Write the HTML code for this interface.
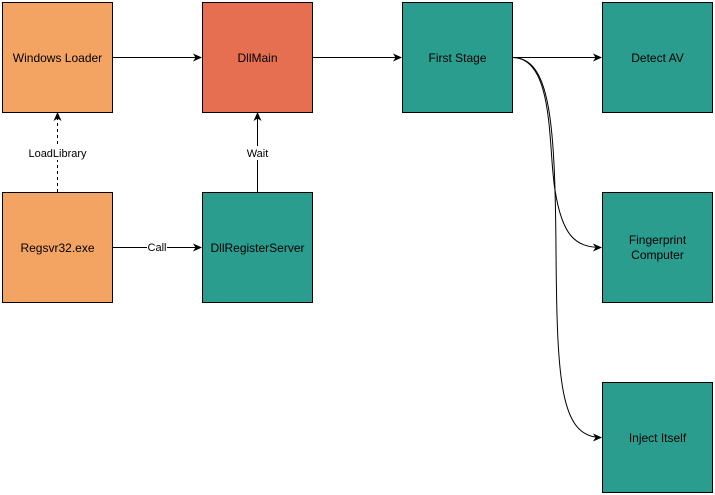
<!DOCTYPE html>
<html><head><style>body{margin:0;background:#fff;}svg{display:block}</style></head>
<body>
<svg width="715" height="495" xmlns="http://www.w3.org/2000/svg" font-family="Liberation Sans, Arial, sans-serif" font-size="12">
<defs><marker id="a" markerWidth="10" markerHeight="10" refX="8" refY="5" orient="auto" markerUnits="userSpaceOnUse"><path d="M0,1 L9,5 L0,9 L2.5,5 Z" fill="#000"/></marker></defs>
<g stroke="#000" stroke-width="1">
<rect x="2.5" y="2.5" width="110" height="110" fill="#F4A462"/>
<rect x="202.5" y="2.5" width="110" height="110" fill="#E76F51"/>
<rect x="402.5" y="2.5" width="110" height="110" fill="#2A9D8F"/>
<rect x="602.5" y="2.5" width="110" height="110" fill="#2A9D8F"/>
<rect x="2.5" y="192.5" width="110" height="110" fill="#F4A462"/>
<rect x="202.5" y="192.5" width="110" height="110" fill="#2A9D8F"/>
<rect x="602.5" y="192.5" width="110" height="110" fill="#2A9D8F"/>
<rect x="602.5" y="382.5" width="110" height="110" fill="#2A9D8F"/>
</g>
<g stroke="#000" fill="none" stroke-width="1">
<path d="M112.5,57.5 H201" marker-end="url(#a)"/>
<path d="M312.5,57.5 H401" marker-end="url(#a)"/>
<path d="M512.5,57.5 H601" marker-end="url(#a)"/>
<path d="M57.5,192 V113" stroke-dasharray="3,3" marker-end="url(#a)"/>
<path d="M257.5,192 V113" marker-end="url(#a)"/>
<path d="M112.5,247.5 H201" marker-end="url(#a)"/>
<path d="M512.5,57.5 C555,57.5 548,150 555,190 C562,235 575,247.5 601,247.5" marker-end="url(#a)"/>
<path d="M512.5,57.5 C550,57.5 555,120 556,250 C557,380 560,437.5 601,437.5" marker-end="url(#a)"/>
</g>
<rect x="28" y="146" width="60" height="14" fill="#fff"/>
<rect x="245" y="146" width="25" height="14" fill="#fff"/>
<rect x="147" y="241" width="20" height="13" fill="#fff"/>
<g text-anchor="middle" fill="#000">
<text x="57.5" y="62">Windows Loader</text>
<text x="257.5" y="62">DllMain</text>
<text x="457.5" y="62">First Stage</text>
<text x="657.5" y="62">Detect AV</text>
<text x="57.5" y="252">Regsvr32.exe</text>
<text x="257.5" y="252">DllRegisterServer</text>
<text x="657.5" y="244">Fingerprint</text>
<text x="657.5" y="259">Computer</text>
<text x="657.5" y="442">Inject Itself</text>
<text x="57.5" y="157" font-size="11">LoadLibrary</text>
<text x="257.5" y="157" font-size="11">Wait</text>
<text x="157" y="251" font-size="11">Call</text>
</g>
</svg>
</body></html>
